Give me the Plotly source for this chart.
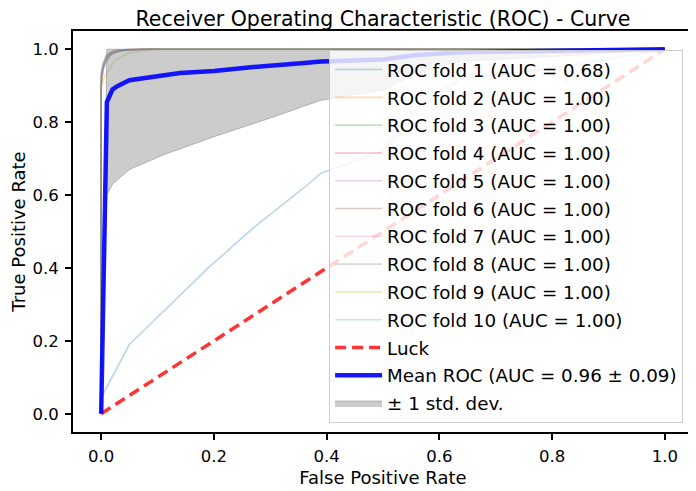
import plotly.graph_objects as go

# ---- data ----
fold_labels = ["ROC fold 1 (AUC = 0.68)", "ROC fold 2 (AUC = 1.00)", "ROC fold 3 (AUC = 1.00)",
               "ROC fold 4 (AUC = 1.00)", "ROC fold 5 (AUC = 1.00)", "ROC fold 6 (AUC = 1.00)",
               "ROC fold 7 (AUC = 1.00)", "ROC fold 8 (AUC = 1.00)", "ROC fold 9 (AUC = 1.00)",
               "ROC fold 10 (AUC = 1.00)"]

fold1_fpr = [0, 0.002, 0.05, 0.19, 0.27, 0.36, 0.39, 0.50, 0.56, 0.64, 0.76, 0.89, 1.0]
fold1_tpr = [0, 0.05, 0.19, 0.40, 0.51, 0.62, 0.66, 0.72, 0.84, 0.92, 0.94, 0.97, 1.0]

fold2_fpr = [0, 0, 0.004, 0.012, 0.03, 0.07, 1.0]
fold2_tpr = [0, 0.90, 0.95, 0.98, 0.995, 1.0, 1.0]
fold3_fpr = [0, 0, 0.003, 0.010, 0.025, 0.06, 1.0]
fold3_tpr = [0, 0.92, 0.96, 0.985, 0.997, 1.0, 1.0]
fold4_fpr = [0, 0, 0.002, 0.008, 0.02, 0.05, 1.0]
fold4_tpr = [0, 0.88, 0.94, 0.98, 0.995, 1.0, 1.0]
fold5_fpr = [0, 0, 0.005, 0.015, 0.035, 0.08, 1.0]
fold5_tpr = [0, 0.91, 0.95, 0.985, 0.996, 1.0, 1.0]
fold6_fpr = [0, 0, 0.006, 0.02, 0.04, 0.09, 1.0]
fold6_tpr = [0, 0.93, 0.96, 0.99, 0.997, 1.0, 1.0]
fold7_fpr = [0, 0, 0.003, 0.01, 0.03, 0.06, 1.0]
fold7_tpr = [0, 0.89, 0.95, 0.98, 0.995, 1.0, 1.0]
fold8_fpr = [0, 0, 0.005, 0.018, 0.04, 0.1, 1.0]
fold8_tpr = [0, 0.94, 0.965, 0.99, 0.998, 1.0, 1.0]
fold9_fpr = [0, 0, 0.008, 0.025, 0.05, 0.1, 1.0]
fold9_tpr = [0, 0.90, 0.93, 0.97, 0.99, 1.0, 1.0]
fold10_fpr = [0, 0, 0.004, 0.012, 0.03, 0.07, 1.0]
fold10_tpr = [0, 0.92, 0.955, 0.985, 0.996, 1.0, 1.0]

luck_x = [0, 1]
luck_y = [0, 1]

mean_fpr = [0, 0.0101, 0.0202, 0.0303, 0.05, 0.1, 0.14, 0.2, 0.27, 0.36, 0.39, 0.5, 0.56, 0.64, 0.76, 0.89, 1.0]
mean_tpr = [0, 0.855, 0.89, 0.90, 0.915, 0.925, 0.935, 0.94, 0.951, 0.962, 0.966, 0.972, 0.984, 0.992, 0.994, 0.997, 1.0]

band_fpr = [0, 0.0101, 0.0202, 0.05, 0.11, 0.2, 0.29, 0.39, 0.5, 0.56, 0.64, 0.76, 0.89, 1.0]
band_lower = [0, 0.60, 0.63, 0.67, 0.71, 0.76, 0.806, 0.86, 0.888, 0.936, 0.968, 0.976, 0.988, 1.0]
band_upper = [0, 1.0, 1.0, 1.0, 1.0, 1.0, 1.0, 1.0, 1.0, 1.0, 1.0, 1.0, 1.0, 1.0]

x_ticks = [0, 0.2, 0.4, 0.6, 0.8, 1.0]
tick_text = ["0.0", "0.2", "0.4", "0.6", "0.8", "1.0"]

fold_colors = ["rgba(31,119,180,0.3)", "rgba(255,127,14,0.3)", "rgba(44,160,44,0.3)",
               "rgba(214,39,40,0.3)", "rgba(148,103,189,0.3)", "rgba(140,86,75,0.3)",
               "rgba(227,119,194,0.3)", "rgba(127,127,127,0.3)", "rgba(188,189,34,0.3)",
               "rgba(23,190,207,0.3)"]

folds = [(fold1_fpr, fold1_tpr), (fold2_fpr, fold2_tpr), (fold3_fpr, fold3_tpr),
         (fold4_fpr, fold4_tpr), (fold5_fpr, fold5_tpr), (fold6_fpr, fold6_tpr),
         (fold7_fpr, fold7_tpr), (fold8_fpr, fold8_tpr), (fold9_fpr, fold9_tpr),
         (fold10_fpr, fold10_tpr)]

fig = go.Figure()

for i, ((fx, fy), lab, col) in enumerate(zip(folds, fold_labels, fold_colors)):
    fig.add_trace(go.Scatter(x=fx, y=fy, mode="lines", name=lab,
                             line=dict(color=col, width=1.6),
                             legendgroup=f"g{i}", legendrank=i + 1))

# std band (drawn before mean line)
fig.add_trace(go.Scatter(x=band_fpr, y=band_lower, mode="lines",
                         line=dict(color="rgba(128,128,128,0.5)", width=1),
                         showlegend=False, hoverinfo="skip", legendgroup="band"))
fig.add_trace(go.Scatter(x=band_fpr, y=band_upper, mode="lines", fill="tonexty",
                         fillcolor="rgba(128,128,128,0.4)",
                         line=dict(color="rgba(128,128,128,0.5)", width=1),
                         name="± 1 std. dev.", legendgroup="band", legendrank=13))

fig.add_trace(go.Scatter(x=luck_x, y=luck_y, mode="lines", name="Luck",
                         line=dict(color="rgba(255,0,0,0.8)", width=3.5, dash="11px,6px"),
                         legendgroup="luck", legendrank=11))

fig.add_trace(go.Scatter(x=mean_fpr, y=mean_tpr, mode="lines",
                         name="Mean ROC (AUC = 0.96 ± 0.09)",
                         line=dict(color="rgba(0,0,255,0.9)", width=4.5),
                         legendgroup="mean", legendrank=12))

axis_common = dict(range=[-0.05, 1.05], tickvals=x_ticks, ticktext=tick_text,
                   ticks="outside", ticklen=6, tickwidth=1.5, tickcolor="black",
                   showline=True, linecolor="black", linewidth=1.8, mirror=True,
                   showgrid=False, zeroline=False, automargin=False,
                   tickfont=dict(family="DejaVu Sans", size=16.5, color="black"))

# the page body adds an 8px offset, so the figure is sized to fit the window
fig.update_layout(
    width=688, height=483,
    margin=dict(l=65, r=3, t=23, b=59, autoexpand=False),
    plot_bgcolor="white", paper_bgcolor="white",
    title=dict(text="Receiver Operating Characteristic (ROC) - Curve",
               x=0.5, xref="paper", y=1 - 11 / 483, yref="container", yanchor="middle",
               pad=dict(t=0, b=0),
               font=dict(family="DejaVu Sans", size=20.5, color="black")),
    xaxis=dict(**axis_common, ticklabelstandoff=2,
               title=dict(text="False Positive Rate", standoff=7,
                          font=dict(family="DejaVu Sans", size=18, color="black"))),
    yaxis=dict(**axis_common, ticklabelstandoff=3,
               title=dict(text="True Positive Rate", standoff=21,
                          font=dict(family="DejaVu Sans", size=18, color="black"))),
    legend=dict(x=0.984, xanchor="right", y=0.022, yanchor="bottom",
                bgcolor="rgba(255,255,255,0.8)", bordercolor="#cccccc", borderwidth=1,
                font=dict(family="DejaVu Sans", size=18.3, color="black"),
                itemwidth=47,
                tracegroupgap=1, traceorder="grouped"),
    showlegend=True,
)

fig.write_html("out.html")
